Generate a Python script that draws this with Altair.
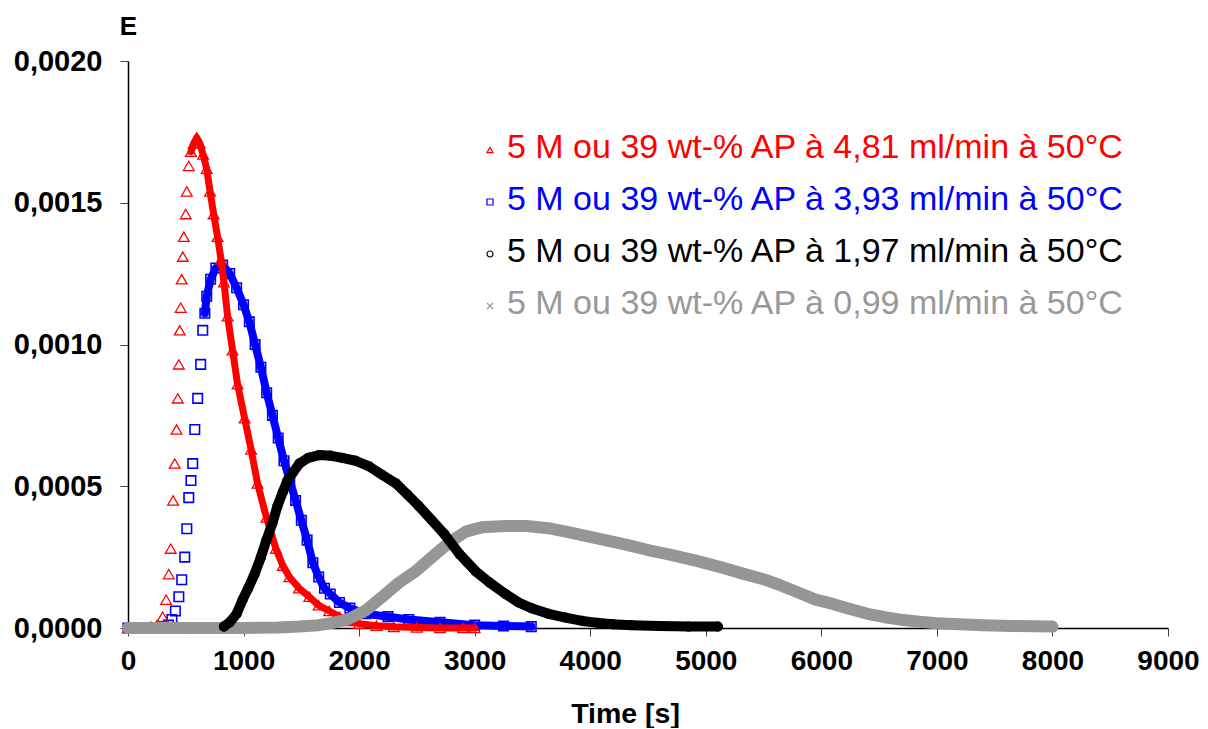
import altair as alt
import pandas as pd

# ---- data (t in s, E) ----
red_t = [0, 100, 200, 250, 300, 330, 353, 370, 390, 405, 420, 431, 440, 448, 456, 465, 474, 483,
         500, 509, 526, 545, 570, 595, 620, 650, 681, 710, 741, 775, 805, 830, 862, 905, 948, 1009,
         1065, 1121, 1198, 1280, 1340, 1397, 1480, 1569, 1650, 1741, 1830, 1914, 2000, 2150, 2300,
         2500, 2700, 2900, 3000]
red_e = [0, 0, 0.000005, 0.00001, 0.00004, 0.0001, 0.00019, 0.00028, 0.00045, 0.00058, 0.0007,
         0.00081, 0.00093, 0.00105, 0.00113, 0.00123, 0.00131, 0.00138, 0.00146, 0.00154, 0.00163,
         0.00168, 0.00171, 0.00173, 0.00171, 0.00167, 0.00162, 0.00154, 0.00146, 0.00138, 0.0013,
         0.00122, 0.0011, 0.00098, 0.00086, 0.00074, 0.00063, 0.00051, 0.00039, 0.00028, 0.00022,
         0.00018, 0.00014, 0.00011, 0.00008, 0.00006, 0.00004, 0.000025, 0.000015, 0.000008,
         0.000004, 0.000002, 0, 0, 0]

blue_t = [0, 200, 300, 350, 380, 410, 440, 465, 491, 509, 526, 545, 560, 578, 603, 629, 647, 665,
          681, 715, 760, 819, 880, 940, 1000, 1050, 1100, 1150, 1200, 1250, 1300, 1350, 1400, 1450,
          1500, 1550, 1600, 1650, 1700, 1750, 1830, 1920, 2060, 2250, 2430, 2700, 3000, 3250, 3490]
blue_e = [0, 0, 0.000002, 0.00001, 0.00003, 0.00006, 0.00011, 0.00017, 0.00025, 0.00035, 0.00046,
          0.00052, 0.00058, 0.0007, 0.00081, 0.00093, 0.00105, 0.00111, 0.00117, 0.00123, 0.00127,
          0.00128, 0.00125, 0.0012, 0.00114, 0.00108, 0.001, 0.00092, 0.00083, 0.00075, 0.00067,
          0.00059, 0.00052, 0.00045, 0.00038, 0.00031, 0.00023, 0.00018, 0.00014, 0.00012, 0.00009,
          0.00007, 0.00005, 0.00004, 0.00003, 0.00002, 0.00001, 0.000007, 0.000005]

black_t = [830, 880, 940, 992, 1040, 1095, 1150, 1198, 1250, 1293, 1340, 1379, 1430, 1483, 1560,
           1655, 1750, 1853, 1970, 2086, 2200, 2319, 2420, 2517, 2630, 2740, 2870, 3009, 3130, 3267,
           3380, 3491, 3640, 3785, 3930, 4069, 4200, 4354, 4600, 4850, 5104]
black_e = [0.000005, 0.00002, 0.00005, 0.0001, 0.00014, 0.00019, 0.00025, 0.00031, 0.00037, 0.00043,
           0.00048, 0.00052, 0.00055, 0.00058, 0.0006, 0.00061, 0.000608, 0.0006, 0.00059, 0.00057,
           0.00054, 0.00051, 0.00047, 0.00043, 0.00038, 0.00033, 0.00026, 0.0002, 0.00016, 0.00012,
           0.00009, 0.00007, 0.00005, 0.000037, 0.000025, 0.000018, 0.000013, 0.00001, 0.000007,
           0.000005, 0.000005]

gray_t = [0, 500, 1000, 1300, 1483, 1650, 1770, 1900, 2060, 2200, 2345, 2490, 2630, 2776, 2922,
          3060, 3267, 3450, 3638, 3850, 4069, 4300, 4500, 4700, 4931, 5150, 5336, 5500, 5650, 5800,
          5950, 6100, 6224, 6400, 6550, 6711, 6850, 7000, 7200, 7400, 7650, 8000]
gray_e = [0, 0, 0, 0.000002, 0.000005, 0.00001, 0.000018, 0.00003, 0.000063, 0.00011, 0.00016,
          0.0002, 0.00025, 0.0003, 0.00034, 0.000355, 0.00036, 0.00036, 0.000352, 0.000335,
          0.000315, 0.000295, 0.000275, 0.000258, 0.000236, 0.000212, 0.00019, 0.000172, 0.00015,
          0.000125, 0.0001, 0.000085, 0.00007, 0.00005, 0.000038, 0.000028, 0.000022, 0.000017,
          0.000013, 0.00001, 0.000007, 0.000005]

labels = ["5 M ou 39 wt-% AP à 4,81 ml/min à 50°C",
          "5 M ou 39 wt-% AP à 3,93 ml/min à 50°C",
          "5 M ou 39 wt-% AP à 1,97 ml/min à 50°C",
          "5 M ou 39 wt-% AP à 0,99 ml/min à 50°C"]
colors = ["#FF0000", "#0000FF", "#000000", "#969696"]
legend_colors = ["#FF0000", "#0000FF", "#000000", "#999999"]

x_ticks = [0, 1000, 2000, 3000, 4000, 5000, 6000, 7000, 8000, 9000]
y_ticks = [0, 0.0005, 0.001, 0.0015, 0.002]

FONT = "Liberation Sans"

x_axis = alt.Axis(values=x_ticks, format="d", title="Time [s]", grid=False,
                  labelFontSize=28, labelFontWeight="bold", labelFont=FONT, labelColor="black",
                  tickSize=8, tickColor="#444444", domainColor="black", domainWidth=1.5,
                  labelPadding=11, labelFlush=False,
                  titleFontSize=28.5, titleFontWeight="bold", titleFont=FONT, titleColor="black",
                  titleX=497, titleY=94, titleBaseline="alphabetic")
y_axis = alt.Axis(values=y_ticks, title="E", grid=False,
                  labelExpr="replace(format(datum.value, '.4f'), '.', ',')",
                  labelFontSize=29, labelFontWeight="bold", labelFont=FONT, labelColor="black",
                  tickSize=8, tickColor="#444444", domainColor="black", domainWidth=1.5,
                  labelPadding=18, labelFlush=False,
                  titleFontSize=26, titleFontWeight="bold", titleFont=FONT, titleColor="black",
                  titleAngle=0, titleX=0, titleY=-27, titleAlign="center",
                  titleBaseline="alphabetic")

xs = alt.Scale(domain=[0, 9000], nice=False, zero=False)
ys = alt.Scale(domain=[0, 0.002], nice=False)


def layers(t, e, color, line_w, line_from, shape, size, sw):
    df = pd.DataFrame({"t": t, "E": e})
    enc = dict(x=alt.X("t:Q", scale=xs, axis=x_axis), y=alt.Y("E:Q", scale=ys, axis=y_axis))
    ln = (alt.Chart(df).transform_filter(alt.datum.t >= line_from)
          .mark_line(color=color, strokeWidth=line_w, strokeJoin="round", strokeCap="round")
          .encode(**enc))
    pt = alt.Chart(df).mark_point(shape=shape, size=size, filled=False, color=color,
                                  strokeWidth=sw, opacity=1).encode(**enc)
    return [ln, pt]


XSHAPE = "M-1,-1L1,1M1,-1L-1,1"

parts = []
parts += layers(blue_t, blue_e, colors[1], 8, 660, "square", 90, 1.6)
parts += layers(red_t, red_e, colors[0], 7, 540, "triangle-up", 115, 1.3)
parts += layers(gray_t, gray_e, colors[3], 12, 0, XSHAPE, 60, 1.5)
parts += layers(black_t, black_e, colors[2], 10, 0, "circle", 75, 1.5)

# legend (drawn as text + symbol)
shapes = ["triangle-up", "square", "circle", XSHAPE]
one = pd.DataFrame({"k": [0]})
for i, lab in enumerate(labels):
    yy = 87 + 52 * i
    parts.append(alt.Chart(one).mark_point(shape=shapes[i], size=36, filled=False,
                                           color=legend_colors[i], strokeWidth=1.2, opacity=1)
                 .encode(x=alt.value(362), y=alt.value(yy + 2)))
    parts.append(alt.Chart(one).mark_text(align="left", baseline="middle", fontSize=34,
                                          font=FONT, color=legend_colors[i])
                 .encode(x=alt.value(379), y=alt.value(yy), text=alt.value(lab)))

chart = alt.layer(*parts).properties(
    width=1040, height=567,
    autosize=alt.AutoSizeParams(type="none"),
    padding={"left": 120, "top": 53, "right": 32, "bottom": 100},
    background="white",
).configure_view(stroke=None)

chart.save("out.html", embed_options={"renderer": "svg", "actions": False})
